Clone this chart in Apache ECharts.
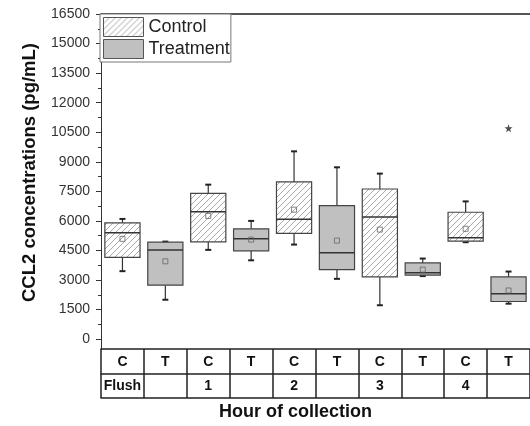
<!DOCTYPE html>
<html>
<head>
<meta charset="utf-8">
<script src="https://cdn.jsdelivr.net/npm/echarts@6/dist/echarts.min.js"></script>
<style>
  html, body { margin: 0; padding: 0; background: #fff; overflow: hidden; }
  #chart { width: 530px; height: 426px; }
</style>
</head>
<body>
<div id="chart"></div>
<script>
// categories (one column per box) and the hour row of the table
const xCats = ['C', 'T', 'C', 'T', 'C', 'T', 'C', 'T', 'C', 'T'];
const hourLabels = ['Flush', '', '1', '', '2', '', '3', '', '4', ''];

// box statistics per column (pg/mL)
const whiskerLow  = [3450, 2000, 4530, 4000, 4800, 3060, 1720, 3200, 4920, 1800];
const q1          = [4150, 2740, 4940, 4480, 5370, 3530, 3160, 3250, 4970, 1910];
const median      = [5400, 4530, 6460, 5090, 6080, 4380, 6200, 3370, 5140, 2300];
const q3          = [5900, 4920, 7400, 5600, 7980, 6780, 7620, 3870, 6440, 3160];
const whiskerHigh = [6100, 4950, 7840, 6000, 9530, 8720, 8400, 4090, 6990, 3430];
const means       = [5090, 3950, 6250, 5050, 6570, 5000, 5560, 3530, 5600, 2470];
const outliers = [[9, 10700]];

// y axis ticks
const yTicks = [0, 1500, 3000, 4500, 6000, 7500, 9000, 10500, 12000, 13500, 15000, 16500];
const yMinorTicks = [750, 2250, 3750, 5250, 6750, 8250, 9750, 11250, 12750, 14250, 15750];

const FONT = 'Arial, "Liberation Sans", sans-serif';

// diagonal hatch used for the control boxes
function makeHatch() {
  const c = document.createElement('canvas');
  c.width = 6; c.height = 6;
  const ctx = c.getContext('2d');
  ctx.fillStyle = '#fff';
  ctx.fillRect(0, 0, 6, 6);
  ctx.strokeStyle = '#a8a8a8';
  ctx.lineWidth = 1;
  ctx.beginPath();
  ctx.moveTo(-1, 7); ctx.lineTo(7, -1);
  ctx.moveTo(-1, 1); ctx.lineTo(1, -1);
  ctx.moveTo(5, 7); ctx.lineTo(7, 5);
  ctx.stroke();
  return c;
}
const hatch = { image: makeHatch(), repeat: 'repeat' };
const grayFill = '#c0c0c0';

function buildData(parity) {
  const out = [];
  for (let i = 0; i < xCats.length; i++) {
    if (i % 2 !== parity) continue;
    out.push([i, whiskerLow[i], q1[i], median[i], q3[i], whiskerHigh[i], means[i]]);
  }
  return out;
}

function renderBox(params, api) {
  const x = api.value(0);
  const w = api.size([1, 0])[0] * 0.82;
  const pLow = api.coord([x, api.value(1)]);
  const pQ1 = api.coord([x, api.value(2)]);
  const pMed = api.coord([x, api.value(3)]);
  const pQ3 = api.coord([x, api.value(4)]);
  const pHigh = api.coord([x, api.value(5)]);
  const pMean = api.coord([x, api.value(6)]);
  const cx = pMed[0];
  const fill = params.seriesIndex === 0 ? hatch : grayFill;
  const line = { stroke: '#333', lineWidth: 1.2 };
  return {
    type: 'group',
    children: [
      { type: 'line', shape: { x1: cx, y1: pQ3[1], x2: cx, y2: pHigh[1] }, style: line },
      { type: 'line', shape: { x1: cx, y1: pQ1[1], x2: cx, y2: pLow[1] }, style: line },
      { type: 'rect', shape: { x: cx - 3, y: pHigh[1] - 1, width: 6, height: 2 }, style: { fill: '#222' } },
      { type: 'rect', shape: { x: cx - 3, y: pLow[1] - 1, width: 6, height: 2 }, style: { fill: '#222' } },
      { type: 'rect', shape: { x: cx - w / 2, y: pQ3[1], width: w, height: pQ1[1] - pQ3[1] },
        style: { fill: fill, stroke: '#444', lineWidth: 1.2 } },
      { type: 'line', shape: { x1: cx - w / 2, y1: pMed[1], x2: cx + w / 2, y2: pMed[1] },
        style: { stroke: '#333', lineWidth: 1.5 } },
      { type: 'rect', shape: { x: pMean[0] - 2.5, y: pMean[1] - 2.5, width: 5, height: 5 },
        style: { fill: 'none', stroke: '#666', lineWidth: 0.8 } }
    ]
  };
}

const chart = echarts.init(document.getElementById('chart'), null, { renderer: 'canvas' });

const catAxisBase = {
  type: 'category',
  gridIndex: 0,
  position: 'bottom',
  boundaryGap: true,
  splitLine: { show: false }
};

const option = {
  animation: false,
  backgroundColor: '#fff',
  grid: { left: 101, top: 14, width: 436, height: 335 },
  legend: {
    orient: 'vertical',
    left: 100,
    top: 14,
    padding: [3, 1, 3, 3],
    itemGap: 2,
    itemWidth: 40,
    itemHeight: 19,
    icon: 'rect',
    borderColor: '#777',
    borderWidth: 1,
    backgroundColor: '#fff',
    itemStyle: { borderColor: '#555', borderWidth: 1 },
    textStyle: { fontFamily: FONT, fontSize: 18, color: '#222' },
    data: ['Control', 'Treatment']
  },
  xAxis: [
    Object.assign({}, catAxisBase, {
      data: xCats,
      offset: 0,
      axisLine: { show: true, onZero: false, lineStyle: { color: '#222', width: 1.5 } },
      axisTick: { show: true, interval: 0, length: 49, lineStyle: { color: '#222', width: 1.5 } },
      axisLabel: { interval: 0, margin: 6, fontFamily: FONT, fontSize: 14, fontWeight: 'bold', color: '#111' }
    }),
    Object.assign({}, catAxisBase, {
      data: hourLabels,
      offset: 25,
      axisLine: { show: true, onZero: false, lineStyle: { color: '#222', width: 1.5 } },
      axisTick: { show: false },
      axisLabel: { interval: 0, margin: 5, fontFamily: FONT, fontSize: 14, fontWeight: 'bold', color: '#111' }
    }),
    Object.assign({}, catAxisBase, {
      data: hourLabels,
      offset: 49,
      axisLine: { show: true, onZero: false, lineStyle: { color: '#222', width: 1.5 } },
      axisTick: { show: false },
      axisLabel: { show: false },
      name: 'Hour of collection',
      nameLocation: 'middle',
      nameGap: 5,
      nameTextStyle: { fontFamily: FONT, fontSize: 18, fontWeight: 'bold', color: '#111',
        verticalAlign: 'top', padding: [0, 40, 0, 0] }
    }),
    Object.assign({}, catAxisBase, {
      data: xCats,
      position: 'top',
      axisLine: { show: true, onZero: false, lineStyle: { color: '#555', width: 2 } },
      axisTick: { show: false },
      axisLabel: { show: false }
    })
  ],
  yAxis: [
    {
      type: 'value',
      min: -500,
      max: 16500,
      position: 'left',
      axisLine: { show: true, lineStyle: { color: '#333', width: 1 } },
      axisTick: { show: true, customValues: yTicks, length: 5, lineStyle: { color: '#333' } },
      axisLabel: { customValues: yTicks, margin: 11, fontFamily: FONT, fontSize: 14, color: '#333',
        formatter: v => String(v) },
      splitLine: { show: false },
      name: 'CCL2 concentrations (pg/mL)',
      nameLocation: 'middle',
      nameGap: 62,
      nameTextStyle: { fontFamily: FONT, fontSize: 18.5, fontWeight: 'bold', color: '#111',
        padding: [0, 0, 0, 18] }
    },
    {
      type: 'value',
      min: -500,
      max: 16500,
      position: 'left',
      axisLine: { show: false },
      axisTick: { show: true, customValues: yMinorTicks, length: 3, lineStyle: { color: '#333' } },
      axisLabel: { show: false },
      splitLine: { show: false }
    }
  ],
  series: [
    {
      name: 'Control',
      type: 'custom',
      xAxisIndex: 0,
      yAxisIndex: 0,
      itemStyle: { color: hatch },
      encode: { x: 0, y: [1, 2, 3, 4, 5, 6] },
      renderItem: renderBox,
      data: buildData(0)
    },
    {
      name: 'Treatment',
      type: 'custom',
      xAxisIndex: 0,
      yAxisIndex: 0,
      itemStyle: { color: grayFill },
      encode: { x: 0, y: [1, 2, 3, 4, 5, 6] },
      renderItem: renderBox,
      data: buildData(1)
    },
    {
      name: 'Outlier',
      type: 'scatter',
      xAxisIndex: 0,
      yAxisIndex: 0,
      symbol: 'path://M5,0 L6.2,3.6 L10,3.6 L7,5.9 L8.1,9.5 L5,7.3 L1.9,9.5 L3,5.9 L0,3.6 L3.8,3.6 Z',
      symbolSize: 8,
      itemStyle: { color: '#222' },
      data: outliers
    }
  ]
};

chart.setOption(option);
</script>
</body>
</html>
